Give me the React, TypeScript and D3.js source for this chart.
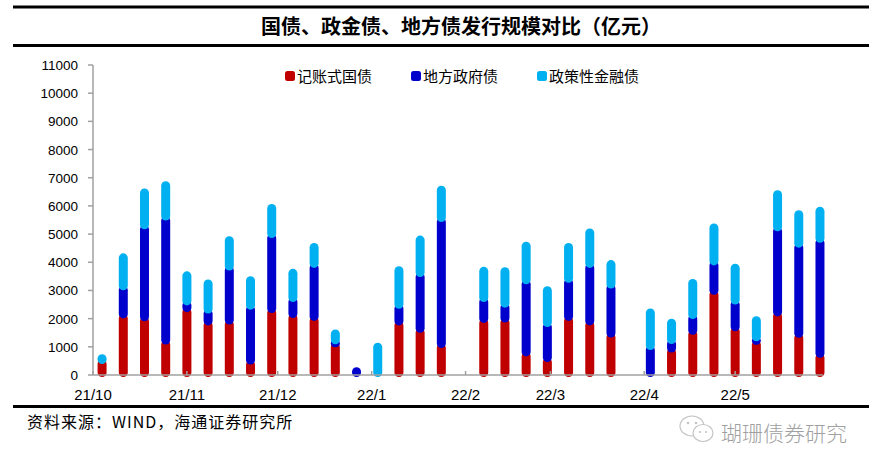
import React from 'react';
import * as d3 from 'd3';

// weekly issuance, 亿元
const weeks = [
  '2021-10-04', '2021-10-11', '2021-10-18', '2021-10-25', '2021-11-01', '2021-11-08',
  '2021-11-15', '2021-11-22', '2021-11-29', '2021-12-06', '2021-12-13', '2021-12-20',
  '2021-12-27', '2022-01-03', '2022-01-10', '2022-01-17', '2022-01-24', '2022-02-07',
  '2022-02-14', '2022-02-21', '2022-02-28', '2022-03-07', '2022-03-14', '2022-03-21',
  '2022-04-03', '2022-04-10', '2022-04-17', '2022-04-24', '2022-05-01', '2022-05-08',
  '2022-05-15', '2022-05-22', '2022-05-29',
];
const treasury = [
  460, 2080, 1980, 1150, 2300, 1830, 1860, 440, 2270, 2090, 1990, 1060,
  0, 0, 1830, 1570, 1030, 1920, 1930, 730, 530, 1990, 1830, 1400,
  0, 870, 1500, 2920, 1620, 1140, 2150, 1390, 680,
];
const localGov = [
  0, 1000, 3260, 4400, 240, 420, 1920, 1950, 2660, 570, 1880, 100,
  260, 0, 590, 1980, 4470, 740, 530, 2560, 1240, 1350, 2040, 1740,
  960, 300, 560, 1040, 950, 130, 3020, 3200, 4080,
];
const policyBank = [
  260, 1220, 1360, 1310, 1120, 1120, 1130, 1100, 1120, 1090, 800, 440,
  0, 1130, 1420, 1380, 1200, 1160, 1350, 1420, 1360, 1330, 1310, 920,
  1380, 810, 1330, 1400, 1360, 800, 1370, 1240, 1190,
];
const seriesNames = ['记账式国债', '地方政府债', '政策性金融债'];
const seriesColors = ['#C00000', '#0000CC', '#00B0F0'];
const yTicks = [0, 1000, 2000, 3000, 4000, 5000, 6000, 7000, 8000, 9000, 10000, 11000];
const monthTicks = ['2021-10-01', '2021-11-01', '2021-12-01', '2022-01-01', '2022-02-01', '2022-03-01', '2022-04-01', '2022-05-01'];

const W = 881;
const H = 474;
const parse = d3.utcParse('%Y-%m-%d');
const fmtMonth = d3.utcFormat('%y/%-m');
const NUM = "'Liberation Sans', Arial, sans-serif";
const CJK = "'Noto Sans CJK SC', sans-serif";

export default function App() {
  const x = d3.scaleUtc()
    .domain([parse('2021-10-01')!, parse('2022-05-30')!])
    .range([93, 823]);
  const y = d3.scaleLinear().domain([0, 11000]).range([375, 65]);

  const rows = weeks.map((w, i) => ({
    date: parse(w)!,
    a: treasury[i],
    b: localGov[i],
    c: policyBank[i],
  }));
  const stacked = d3.stack<any>().keys(['a', 'b', 'c'])(rows);
  const bw = 9;
  const r = 4.5;

  return (
    <div style={{ position: 'absolute', left: 0, top: 0 }}>
      <svg width={W} height={H} style={{ display: 'block', background: '#fff' }}>
        {/* frame lines */}
        <line x1={13} x2={869} y1={7} y2={7} stroke="#000" strokeWidth={3} />
        <line x1={13} x2={869} y1={45.5} y2={45.5} stroke="#000" strokeWidth={3} />
        <line x1={13} x2={869} y1={406.5} y2={406.5} stroke="#000" strokeWidth={3} />
        <text x={461} y={34} textAnchor="middle" fontFamily={CJK} fontWeight={700} fontSize={20}>
          国债、政金债、地方债发行规模对比（亿元）
        </text>

        {/* legend */}
        {seriesNames.map((n, i) => {
          const lx = [285, 411, 537][i];
          return (
            <g key={n}>
              <rect x={lx} y={71} width={10} height={10} rx={2.5} fill={seriesColors[i]} />
              <text x={lx + 12} y={81.5} fontFamily={CJK} fontSize={15}>{n}</text>
            </g>
          );
        })}

        {/* bars: rounded segments, each one overlapping the one below */}
        {stacked.map((s, si) => (
          <g key={si} fill={seriesColors[si]}>
            {s.map((d, i) => {
              if (d[1] - d[0] <= 0) return null;
              const isTop = stacked.slice(si + 1).every(o => o[i][1] - o[i][0] <= 0);
              const top = isTop ? y(d[1]) - 0.5 : y(d[1]) - 2.5;
              const bottom = d[0] === 0 ? y(0) + 2 : y(d[0]) + 2;
              return (
                <rect key={i} x={x(rows[i].date) - bw / 2} y={top} width={bw}
                  height={bottom - top} rx={r} ry={r} />
              );
            })}
          </g>
        ))}

        {/* y axis */}
        <line x1={93} x2={93} y1={65} y2={375} stroke="#A0A0A0" strokeWidth={1.5} />
        {yTicks.map(t => (
          <g key={t}>
            <line x1={88} x2={93} y1={y(t)} y2={y(t)} stroke="#A0A0A0" strokeWidth={1.5} />
            <text x={78} y={y(t) + 5} textAnchor="end" fontFamily={NUM} fontSize={13.5}>{t}</text>
          </g>
        ))}

        {/* x axis */}
        <line x1={93} x2={823} y1={375} y2={375} stroke="#A0A0A0" strokeWidth={1.5} />
        {monthTicks.map(m => {
          const tx = x(parse(m)!);
          return (
            <g key={m}>
              <line x1={tx} x2={tx} y1={375} y2={371} stroke="#A0A0A0" strokeWidth={1.5} />
              <text x={tx} y={400} textAnchor="middle" fontFamily={NUM} fontSize={15}>{fmtMonth(parse(m)!)}</text>
            </g>
          );
        })}

        {/* source */}
        <text x={27} y={428} fontFamily={CJK} fontSize={16} letterSpacing={1}>资料来源：WIND，海通证券研究所</text>

        {/* watermark */}
        <g stroke="#C4C4C4" strokeWidth={1.2} fill="#fff">
          <ellipse cx={692} cy={426} rx={12} ry={10} />
          <ellipse cx={703} cy={433} rx={10} ry={8.5} />
        </g>
        <g fill="#C4C4C4">
          <circle cx={688} cy={423} r={1.3} />
          <circle cx={696} cy={423} r={1.3} />
          <circle cx={700} cy={432} r={1.1} />
          <circle cx={706} cy={432} r={1.1} />
        </g>
        <text x={721} y={441} fontFamily={CJK} fontWeight={300} fontSize={21} fill="#A0A0A0">瑚珊债券研究</text>
      </svg>
    </div>
  );
}
